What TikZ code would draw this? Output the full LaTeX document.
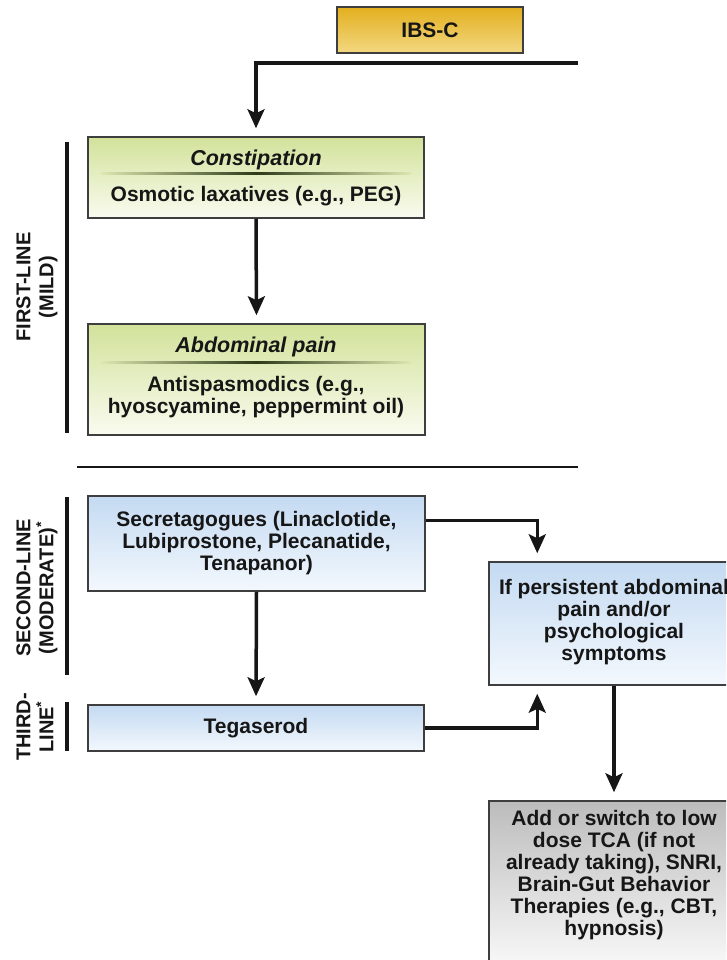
\documentclass[tikz,border=0pt]{standalone}
\usepackage{fontspec}
\setmainfont{Liberation Sans}
\usetikzlibrary{arrows.meta}
\definecolor{goldtop}{HTML}{E2AF1E}
\definecolor{goldbot}{HTML}{F3D882}
\definecolor{greentop}{HTML}{D2E29A}
\definecolor{greenbot}{HTML}{FAFBF0}
\definecolor{bluetop}{HTML}{C4DAF2}
\definecolor{bluebot}{HTML}{F3F8FD}
\definecolor{graytop}{HTML}{BCBCBC}
\definecolor{graybot}{HTML}{FCFCFC}
\definecolor{boxline}{HTML}{3E3E3E}
\definecolor{sepdark}{HTML}{2E3A18}
\definecolor{inkc}{HTML}{161616}
\newcommand{\myfont}{\fontsize{21}{22}\selectfont\bfseries}
\newcommand{\myhdr}{\fontsize{21.5}{22}\selectfont\bfseries\itshape}
\newcommand{\mylab}{\fontsize{20}{23}\selectfont\bfseries}
\begin{document}
\begin{tikzpicture}[x=1pt,y=-1pt,
  box/.style={draw=boxline, line width=1.5pt, inner sep=0pt, align=center, font=\myfont, text=inkc},
  goldbox/.style={box, top color=goldtop, bottom color=goldbot},
  greenbox/.style={box, top color=greentop, bottom color=greenbot},
  bluebox/.style={box, top color=bluetop, bottom color=bluebot},
  graybox/.style={box, top color=graytop, bottom color=graybot},
  txt/.style={inner sep=0pt, align=center, font=\myfont, text=inkc},
  hdr/.style={inner sep=0pt, align=center, font=\myhdr, text=inkc},
  lab/.style={inner sep=0pt, align=center, font=\mylab, text=inkc, rotate=90},
  bar/.style={line width=4pt, draw=inkc},
  rule/.style={line width=2.5pt, draw=inkc},
  arr/.style={line width=3.5pt, draw=inkc, -{Stealth[width=17pt,length=19pt,inset=4pt]}, shorten >=8pt},
  conn/.style={line width=3.5pt, draw=inkc}
]
\useasboundingbox (0,0) rectangle (726,960);
\clip (0,0) rectangle (726,960);
\fill[white] (0,0) rectangle (726,960);

% top box
\node[goldbox, minimum width=186pt, minimum height=46pt] (ibs) at (430,30) {IBS-C};
\coordinate (topR) at (578,63);

% first-line
\node[greenbox, minimum width=336pt, minimum height=81pt] (const) at (256,177.5) {};
\node[hdr] (consth) at (256,160) {Constipation};
\shade[left color=greentop!75!greenbot, right color=greentop!75!greenbot, middle color=sepdark] (101,172.5) rectangle (411,174.5);
\node[txt] (constt) at (256,196) {Osmotic laxatives (e.g., PEG)};

\node[greenbox, minimum width=337pt, minimum height=111pt] (abd) at (256.5,379.5) {};
\node[hdr] (abdh) at (256,347) {Abdominal pain};
\shade[left color=greentop!75!greenbot, right color=greentop!75!greenbot, middle color=sepdark] (101,361.5) rectangle (411,363.5);
\node[txt] (abdt) at (256,397.5) {Antispasmodics (e.g.,\\hyoscyamine, peppermint oil)};

% separator rule
\coordinate (ruleL) at (77,467);
\coordinate (ruleR) at (578,467);
\draw[rule] (ruleL) -- (ruleR);

% second / third line
\node[bluebox, minimum width=337pt, minimum height=95pt] (sec) at (256.5,543.5) {Secretagogues (Linaclotide,\\Lubiprostone, Plecanatide,\\Tenapanor)};
\node[bluebox, minimum width=336pt, minimum height=46pt] (teg) at (256,728) {Tegaserod};
\node[bluebox, minimum width=250pt, minimum height=123pt] (pers) at (614,623.5) {};
\node[txt] (perst) at (614,622) {If persistent abdominal\\pain and/or\\psychological\\symptoms};
\node[graybox, minimum width=250pt, minimum height=175pt] (add) at (614,888.5) {};
\node[txt] (addt) at (614,875) {Add or switch to low\\dose TCA (if not\\already taking), SNRI,\\Brain-Gut Behavior\\Therapies (e.g., CBT,\\hypnosis)};

% side labels and bars
\coordinate (b1t) at (67,142); \coordinate (b1b) at (67,433);
\coordinate (b2t) at (67,497); \coordinate (b2b) at (67,675);
\coordinate (b3t) at (67,702); \coordinate (b3b) at (67,751);
\draw[bar] (b1t) -- (b1b);
\draw[bar] (b2t) -- (b2b);
\draw[bar] (b3t) -- (b3b);
\node[lab] (l1) at (37,287) {FIRST-LINE\\(MILD)};
\node[lab] (l2) at (37,588) {SECOND-LINE\\(MODERATE)\textsuperscript{*}};
\node[lab] (l3) at (35,727) {THIRD-\\LINE\textsuperscript{*}};

% connectors
\draw[arr] (topR) -| (const.north);
\draw[arr] (const.south) -- (abd.north);
\draw[arr] (sec.south) -- (teg.north);
\draw[arr] ([yshift=-25pt]sec.north east) -| ([xshift=49pt]pers.north west);
\draw[arr] (teg.east) -| ([xshift=49pt]pers.south west);
\draw[arr] (pers.south) -- (add.north);
\end{tikzpicture}
\end{document}
